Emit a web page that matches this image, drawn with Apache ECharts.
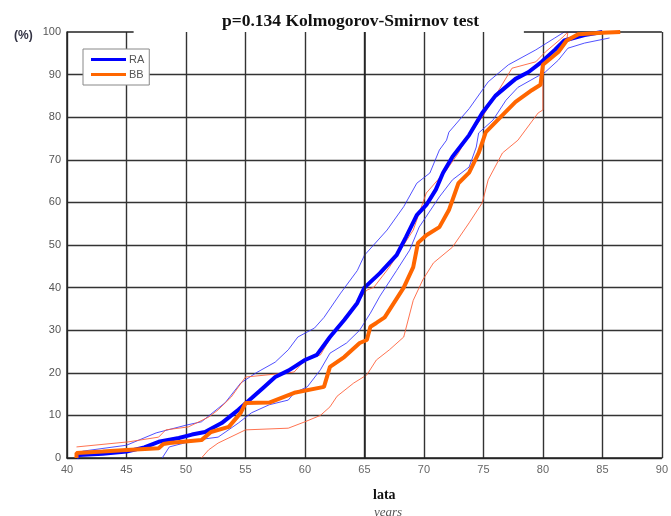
<!DOCTYPE html>
<html><head><meta charset="utf-8">
<script src="https://cdn.jsdelivr.net/npm/echarts@6/dist/echarts.min.js"></script>
<style>html,body{margin:0;padding:0;background:#fff}#c{width:671px;height:516px}</style>
</head><body><div id="c"></div>
<script>
const titleText = 'p=0.134 Kolmogorov-Smirnov test';
const xTicks = [40,45,50,55,60,65,70,75,80,85,90];
const yTicks = [0,10,20,30,40,50,60,70,80,90,100];

const raMain = [[40.8,0],[41,0.7],[43,1.0],[45,1.5],[46.5,2.5],[47.7,3.8],[49.4,4.7],[50.5,5.5],[51.6,6.1],[53,8.2],[54.4,11.3],[55.5,14],[56.5,16.5],[57.5,19],[58.6,20.5],[59.1,21.4],[60,23],[61,24.2],[62.1,28.4],[63.3,32.4],[64.4,36.4],[65,40],[66.3,43.4],[67.7,47.6],[68.5,51.9],[69.4,57],[70.2,59.4],[71,63],[71.6,66.9],[72.4,70.7],[73.8,75.8],[74.9,81],[76,85],[77.7,89],[78.8,90.6],[79.9,93],[81,95.8],[81.8,98],[83.5,99.3],[85,100]];
const raUpper = [[41.3,1.6],[45,3],[47.5,5.9],[50,7.7],[51.3,8.5],[53.3,13],[54.6,17.6],[55.9,20],[57.5,22.5],[58.6,25.4],[59.4,28.4],[60.8,30.5],[61.6,33],[63,38.7],[64.4,44],[65,47.6],[66.9,53.5],[68.3,59],[69.4,64.5],[70.5,66.9],[71.3,72.3],[71.9,74.6],[72.1,76.5],[73.8,82],[75.4,88.3],[77.1,92.3],[79.4,95.8],[81,98.6],[81.8,100],[84,100]];
const raLower = [[48,0],[48.6,2.6],[50.8,4.2],[52.7,4.9],[54.4,8.2],[55.5,10.6],[57,12.5],[58.6,13.6],[59.1,15.3],[60.2,16.7],[61.3,20.7],[62.1,24.6],[63.5,27],[64.6,30],[65.5,34],[66.3,38],[67.7,44],[68.8,48.8],[69.6,54.2],[71.3,61.3],[72.4,65.3],[73.8,68.3],[74.4,73],[74.6,76.3],[75.8,79.3],[76.9,84],[77.9,87],[80.2,90.6],[81.3,93.4],[82.1,96.2],[83.5,97.4],[85.6,98.6]];
const bbMain = [[40.8,0],[40.8,1.2],[43,1.5],[45,1.9],[47.7,2.3],[48.1,3.3],[48.6,3.5],[51.3,4.2],[52.1,6.1],[53.6,7.3],[54.6,10.6],[55,12.9],[57,13],[59.1,15.3],[61.6,16.7],[62.1,21.4],[63.3,23.7],[64.6,27],[65.2,27.7],[65.5,30.8],[66,31.7],[66.7,33],[68.3,40],[69.1,44.8],[69.5,50.5],[70.2,52.3],[71.3,54.2],[72.1,58.2],[72.9,64.5],[73.8,67],[74.6,71.6],[75.2,76.5],[76.6,80.5],[77.7,83.6],[79.1,86.4],[79.8,87.6],[80,92.3],[81.3,95.3],[82,98],[83,99.5],[85,99.8],[86.5,100]];
const bbUpper = [[40.8,2.6],[45.2,3.8],[47.7,4.9],[48.3,6.6],[50.2,7.3],[51.9,9.6],[52.7,11.3],[53.8,14.3],[55,19],[58.6,20],[59.1,20.2],[60,23],[61.3,24.2],[62.7,30.8],[64.1,35.5],[65.2,39.4],[65.8,40.1],[67.1,44.8],[69.1,53.5],[70.2,62.2],[71.9,67.6],[72.9,71.6],[73.5,74.6],[74.9,80],[76,85],[77.4,91.5],[79.4,93],[80.2,95.3],[81.6,98.6],[82.1,100]];
const bbLower = [[51.3,0],[51.9,1.9],[52.7,3.5],[55,6.6],[58.6,7],[60,8.5],[61.3,10],[62.1,12],[62.7,14.5],[64.1,17.6],[65.2,19.5],[66,23],[67.1,25.4],[68.3,28.4],[69.1,37],[69.9,41.8],[70.8,45.8],[72.4,49.5],[73.8,55.2],[74.9,59.9],[75.4,65.3],[76.6,71.6],[77.9,74.6],[79.6,81],[80,81.7],[80,92.7],[81.3,95],[82,98],[82.1,100]];

const BLUE = '#0000ff', ORANGE = '#ff6600', BLUE_T = '#3333ff', ORANGE_T = '#ff5a33';
const chart = echarts.init(document.getElementById('c'));
const thin = (name, data, color) => ({name, type:'line', data, symbol:'none', silent:true, z:2, lineStyle:{color, width:1, opacity:0.85}});
chart.setOption({
  animation:false,
  backgroundColor:'#fff',
  title:[
    {text:titleText, left:217, top:7, textStyle:{fontFamily:'Liberation Serif', fontWeight:'bold', fontSize:17.5, color:'#111'}},
    {text:'(%)', left:9, top:25, textStyle:{fontFamily:'Liberation Sans', fontWeight:'bold', fontSize:12, color:'#334'}},
    {text:'lata', left:368, top:483, textStyle:{fontFamily:'Liberation Serif', fontWeight:'bold', fontSize:14, color:'#111'}},
    {text:'years', left:369, top:501, textStyle:{fontFamily:'Liberation Serif', fontStyle:'italic', fontWeight:'normal', fontSize:13, color:'#555'}}
  ],
  legend:{
    left:83, top:49, orient:'vertical', data:['RA','BB'], icon:'rect', itemWidth:35, itemHeight:3, itemGap:4,
    padding:[5,5,5,8], borderColor:'#888', borderWidth:1, backgroundColor:'#fff',
    textStyle:{fontFamily:'Liberation Sans', fontSize:11, color:'#555', padding:[0,0,0,-2]}
  },
  grid:{left:67, right:3, top:32, bottom:58},
  xAxis:{type:'value', min:xTicks[0], max:xTicks[xTicks.length-1], interval:5,
    axisLine:{lineStyle:{color:'#222', width:1.5}}, axisTick:{show:false},
    axisLabel:{fontFamily:'Liberation Sans', fontSize:11, color:'#666', margin:6},
    splitLine:{lineStyle:{color:'#333', width:1.4}}},
  yAxis:{type:'value', min:yTicks[0], max:yTicks[yTicks.length-1], interval:10,
    axisLine:{show:true, lineStyle:{color:'#222', width:1.5}}, axisTick:{show:false},
    axisLabel:{fontFamily:'Liberation Sans', fontSize:11, color:'#555', margin:6},
    splitLine:{showMaxLine:false, lineStyle:{color:'#333', width:1.4}}},
  series:[
    thin('RA_upper', raUpper, BLUE_T),
    thin('RA_lower', raLower, BLUE_T),
    thin('BB_upper', bbUpper, ORANGE_T),
    thin('BB_lower', bbLower, ORANGE_T),
    {name:'RA', type:'line', data:raMain, symbol:'none', z:4, lineStyle:{color:BLUE, width:4}, itemStyle:{color:BLUE},
      markLine:{silent:true, symbol:'none', label:{show:false}, lineStyle:{color:'#222', width:1.5, type:'solid'},
        data:[[{coord:[40,100]},{coord:[45.6,100]}],[{coord:[78.4,100]},{coord:[90,100]}],
              [{coord:[65,0]},{coord:[65,100]}]]}},
    {name:'BB', type:'line', data:bbMain, symbol:'none', z:5, lineStyle:{color:ORANGE, width:4}, itemStyle:{color:ORANGE}}
  ]
});
</script></body></html>
